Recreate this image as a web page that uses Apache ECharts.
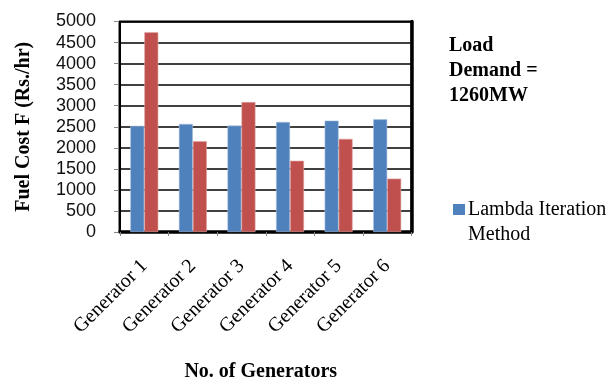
<!DOCTYPE html>
<html>
<head>
<meta charset="utf-8">
<script src="https://cdn.jsdelivr.net/npm/echarts@6/dist/echarts.min.js"></script>
<style>
  html, body { margin: 0; padding: 0; background: #fff; }
  #chart { width: 612px; height: 387px; }
</style>
</head>
<body>
<div id="chart"></div>
<script>
// Fuel cost per generator, two dispatch methods
var generators = ['Generator 1', 'Generator 2', 'Generator 3', 'Generator 4', 'Generator 5', 'Generator 6'];
var lambdaIteration = [2520, 2567, 2528, 2614, 2646, 2677];
var secondMethod = [4748, 2157, 3087, 1693, 2213, 1268];
var yTicks = { min: 0, max: 5000, interval: 500 };

var serif = '"Liberation Serif", "Times New Roman", serif';
var sans = '"Liberation Sans", Arial, sans-serif';

var chart = echarts.init(document.getElementById('chart'), null, { renderer: 'canvas' });

chart.setOption({
  animation: false,
  backgroundColor: '#fff',
  title: {
    text: 'Load\nDemand =\n1260MW',
    left: 449,
    top: 33,
    padding: 0,
    textStyle: { fontFamily: serif, fontWeight: 'bold', fontSize: 20, lineHeight: 25, color: '#000' }
  },
  legend: {
    data: ['Lambda Iteration Method'],
    left: 453,
    top: 172,
    padding: 0,
    orient: 'vertical',
    icon: 'rect',
    itemWidth: 12,
    itemHeight: 11,
    itemGap: 4,
    itemStyle: { borderWidth: 0 },
    formatter: function () { return '\nLambda Iteration\nMethod'; },
    textStyle: { fontFamily: serif, fontSize: 20, lineHeight: 25, color: '#000', padding: [0, 0, 0, -2] }
  },
  grid: {
    left: 120, top: 21.5, right: 200.5, bottom: 155,
    show: true, borderColor: '#000', borderWidth: 2
  },
  xAxis: [{
    type: 'category',
    data: generators,
    offset: 2,
    axisLine: { lineStyle: { color: '#868686', width: 1 } },
    axisTick: { show: true, length: 4, alignWithLabel: false, lineStyle: { color: '#868686' } },
    axisLabel: { rotate: 45, margin: 29, fontFamily: serif, fontSize: 20, color: '#000', interval: 0 },
    name: 'No. of Generators',
    nameLocation: 'middle',
    nameGap: 128,
    nameTextStyle: { fontFamily: serif, fontWeight: 'bold', fontSize: 20, color: '#000', padding: [0, 10, 0, 0] }
  }, {
    type: 'category',
    data: generators,
    position: 'top',
    axisLine: { lineStyle: { color: '#000', width: 3.5 } },
    axisTick: { show: false },
    axisLabel: { show: false }
  }],
  yAxis: [{
    type: 'value',
    min: yTicks.min, max: yTicks.max, interval: yTicks.interval,
    offset: 2,
    axisLine: { show: true, lineStyle: { color: '#868686', width: 1 } },
    axisTick: { show: true, length: 4, lineStyle: { color: '#868686' } },
    axisLabel: {
      margin: 22, fontFamily: sans, fontSize: 18, color: '#111',
      formatter: function (v) { return String(v); }
    },
    splitLine: { show: true, lineStyle: { color: '#000', width: 1.5 } },
    name: 'Fuel Cost F (Rs./hr)',
    nameLocation: 'middle',
    nameGap: 84,
    nameTextStyle: { fontFamily: serif, fontWeight: 'bold', fontSize: 20, color: '#000' }
  }, {
    type: 'value',
    position: 'right',
    min: yTicks.min, max: yTicks.max, interval: yTicks.interval,
    axisLine: { show: true, lineStyle: { color: '#000', width: 3.5 } },
    axisTick: { show: false },
    axisLabel: { show: false },
    splitLine: { show: false }
  }],
  series: [{
    name: 'Lambda Iteration Method',
    type: 'bar',
    data: lambdaIteration,
    barWidth: 14,
    barGap: '0%',
    itemStyle: { color: '#4F81BD', borderColor: '#a9c0e0', borderWidth: 0.6 }
  }, {
    name: 'Second Method',
    type: 'bar',
    data: secondMethod,
    barWidth: 14,
    barGap: '0%',
    itemStyle: { color: '#C0504D', borderColor: '#e0aaa8', borderWidth: 0.6 }
  }]
});
</script>
</body>
</html>
